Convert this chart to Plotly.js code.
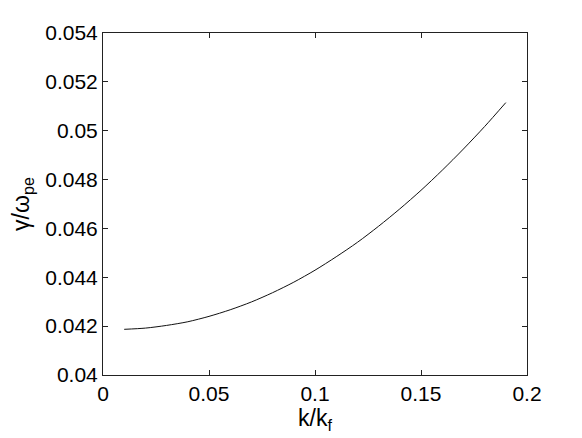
<!DOCTYPE html>
<html>
<head>
<meta charset="utf-8">
<script src="https://cdn.plot.ly/plotly-3.0.1.min.js"></script>
<style>
  body { margin: 0; background: #fff; }
  #plot { width: 582px; height: 438px; }
</style>
</head>
<body>
<div id="plot"></div>
<script>
// growth rate vs normalised wavenumber
var kOverKf = [0.01, 0.02, 0.03, 0.04, 0.05, 0.06, 0.07, 0.08, 0.09, 0.10,
               0.11, 0.12, 0.13, 0.14, 0.15, 0.16, 0.17, 0.18, 0.19];
var gammaOverOmega = [0.04187, 0.04192, 0.04203, 0.04218, 0.04240, 0.04267, 0.04299, 0.04337, 0.04380, 0.04429,
                      0.04484, 0.04543, 0.04609, 0.04680, 0.04756, 0.04838, 0.04925, 0.05017, 0.05115];

var xTicks = [0, 0.05, 0.1, 0.15, 0.2];
var xTickLabels = ['0', '0.05', '0.1', '0.15', '0.2'];
var yTicks = [0.04, 0.042, 0.044, 0.046, 0.048, 0.05, 0.052, 0.054];
var yTickLabels = ['0.04', '0.042', '0.044', '0.046', '0.048', '0.05', '0.052', '0.054'];

var font = 'Liberation Sans, Arial, Helvetica, sans-serif';

var trace = {
    x: kOverKf,
    y: gammaOverOmega,
    type: 'scatter',
    mode: 'lines',
    showlegend: false,
    line: { color: '#111', width: 1, shape: 'spline', smoothing: 0.8 }
};

var axisCommon = {
    showgrid: false,
    zeroline: false,
    showline: true,
    linecolor: '#222',
    linewidth: 1,
    mirror: 'ticks',
    ticks: 'inside',
    ticklen: 5,
    tickwidth: 1,
    tickcolor: '#222',
    tickfont: { family: font, size: 21, color: '#000' }
};

var layout = {
    width: 582,
    height: 438,
    margin: { l: 103, r: 55, t: 33, b: 63 },
    paper_bgcolor: '#fff',
    plot_bgcolor: '#fff',
    xaxis: Object.assign({}, axisCommon, {
        range: [0, 0.2],
        tickvals: xTicks,
        ticktext: xTickLabels,
        title: { text: 'k/k<sub>f</sub>', font: { family: font, size: 23, color: '#000' }, standoff: 5 }
    }),
    yaxis: Object.assign({}, axisCommon, {
        range: [0.04, 0.054],
        tickvals: yTicks,
        ticktext: yTickLabels,
        title: { text: 'γ/ω<sub>pe</sub>', font: { family: font, size: 23, color: '#000' }, standoff: 9 }
    })
};

Plotly.newPlot('plot', [trace], layout, { staticPlot: true, displayModeBar: false });
</script>
</body>
</html>
